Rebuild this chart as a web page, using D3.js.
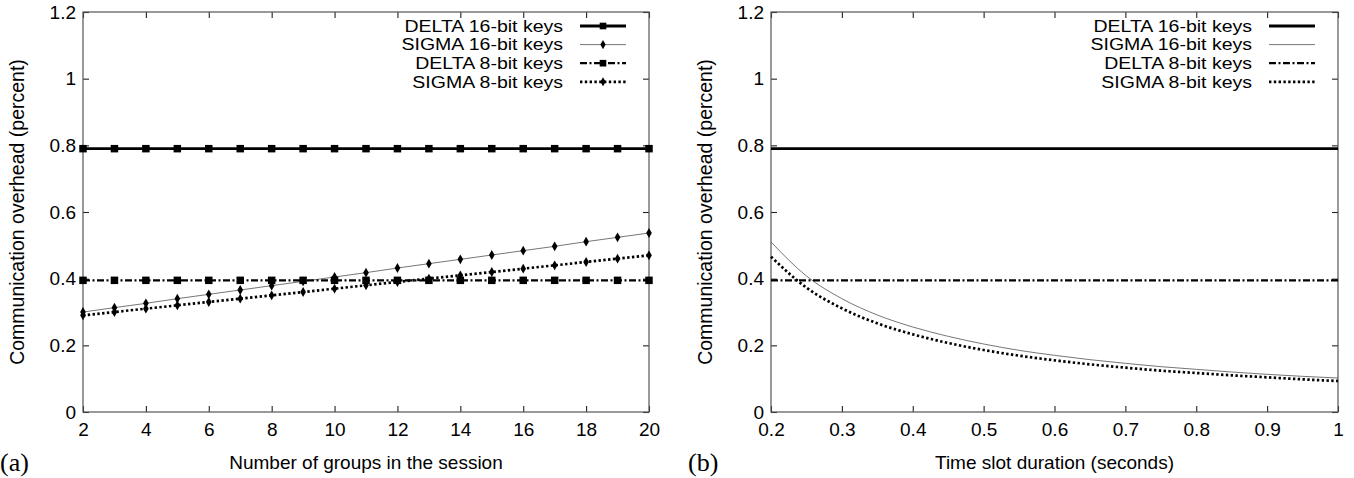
<!DOCTYPE html>
<html>
<head>
<meta charset="utf-8">
<script src="https://cdn.jsdelivr.net/npm/d3@7"></script>
<style>
  body { margin: 0; background: #fff; }
  text { font-family: "Liberation Sans", Arial, sans-serif; fill: #000; }
  .panel-tag { font-family: "Liberation Serif", "Times New Roman", serif; }
</style>
</head>
<body>
<div id="chart"></div>
<script>
// ---- data ----
const seriesNames = ["DELTA 16-bit keys", "SIGMA 16-bit keys", "DELTA 8-bit keys", "SIGMA 8-bit keys"];

// panel (a): overhead vs number of groups
const groupCounts = [2, 3, 4, 5, 6, 7, 8, 9, 10, 11, 12, 13, 14, 15, 16, 17, 18, 19, 20];
const deltaGroups16 = [0.79, 0.79, 0.79, 0.79, 0.79, 0.79, 0.79, 0.79, 0.79, 0.79, 0.79, 0.79, 0.79, 0.79, 0.79, 0.79, 0.79, 0.79, 0.79];
const sigmaGroups16 = [0.300, 0.313, 0.326, 0.340, 0.353, 0.366, 0.379, 0.392, 0.405, 0.418, 0.432, 0.445, 0.458, 0.471, 0.484, 0.497, 0.511, 0.524, 0.537];
const deltaGroups8 = [0.395, 0.395, 0.395, 0.395, 0.395, 0.395, 0.395, 0.395, 0.395, 0.395, 0.395, 0.395, 0.395, 0.395, 0.395, 0.395, 0.395, 0.395, 0.395];
const sigmaGroups8 = [0.290, 0.300, 0.310, 0.320, 0.330, 0.340, 0.350, 0.360, 0.370, 0.380, 0.390, 0.400, 0.410, 0.420, 0.430, 0.440, 0.450, 0.460, 0.470];

// panel (b): overhead vs time slot duration
const slotDurations = [0.20, 0.25, 0.30, 0.35, 0.40, 0.45, 0.50, 0.55, 0.60, 0.65, 0.70, 0.75, 0.80, 0.85, 0.90, 0.95, 1.00];
const deltaSlot16 = [0.79, 0.79, 0.79, 0.79, 0.79, 0.79, 0.79, 0.79, 0.79, 0.79, 0.79, 0.79, 0.79, 0.79, 0.79, 0.79, 0.79];
const sigmaSlot16 = [0.510, 0.408, 0.340, 0.291, 0.255, 0.227, 0.204, 0.185, 0.170, 0.157, 0.146, 0.136, 0.128, 0.120, 0.113, 0.107, 0.102];
const deltaSlot8 = [0.395, 0.395, 0.395, 0.395, 0.395, 0.395, 0.395, 0.395, 0.395, 0.395, 0.395, 0.395, 0.395, 0.395, 0.395, 0.395, 0.395];
const sigmaSlot8 = [0.466, 0.373, 0.311, 0.266, 0.233, 0.207, 0.186, 0.169, 0.155, 0.143, 0.133, 0.124, 0.117, 0.110, 0.104, 0.098, 0.093];

const yTicks = [0, 0.2, 0.4, 0.6, 0.8, 1, 1.2];
const groupTicks = [2, 4, 6, 8, 10, 12, 14, 16, 18, 20];
const slotTicks = [0.2, 0.3, 0.4, 0.5, 0.6, 0.7, 0.8, 0.9, 1];

// ---- layout ----
const width = 1354;
const height = 478;

const svg = d3.select("#chart")
    .append("svg")
    .attr("width", width)
    .attr("height", height);

// line styles per series (same order as seriesNames)
const styles = [
    { width: 2.8, color: "#000", dash: null, marker: "square" },
    { width: 0.9, color: "#666", dash: null, marker: "diamond" },
    { width: 2.3, color: "#000", dash: "7,2.5,2,2.5", marker: "square" },
    { width: 2.7, color: "#000", dash: "2.4,2.4", marker: "diamond" }
];

// legend rows sit tight, so use a smaller font stretched to the wider width
function legendWidth(name) {
    const t = svg.append("text").style("font-size", "19.5px").text(name);
    const w = t.node().getComputedTextLength();
    t.remove();
    return w;
}

function drawPanel(cfg) {
    const x = d3.scaleLinear().domain(cfg.xDomain).range([cfg.left, cfg.right]);
    const y = d3.scaleLinear().domain([0, 1.2]).range([cfg.bottom, cfg.top]);
    const g = svg.append("g");
    const tickLen = 6;

    // ticks on all four sides, pointing inward (gnuplot style)
    g.append("g")
        .attr("transform", `translate(0,${cfg.bottom})`)
        .call(d3.axisBottom(x).tickValues(cfg.xTicks).tickSize(-tickLen).tickPadding(11).tickFormat(d => String(+d.toFixed(1))))
        .call(a => a.select(".domain").remove());
    g.append("g")
        .attr("transform", `translate(0,${cfg.top})`)
        .call(d3.axisTop(x).tickValues(cfg.xTicks).tickSize(-tickLen).tickFormat(""))
        .call(a => a.select(".domain").remove());
    g.append("g")
        .attr("transform", `translate(${cfg.left},0)`)
        .call(d3.axisLeft(y).tickValues(yTicks).tickSize(-tickLen).tickPadding(7).tickFormat(d => String(+d.toFixed(1))))
        .call(a => a.select(".domain").remove());
    g.append("g")
        .attr("transform", `translate(${cfg.right},0)`)
        .call(d3.axisRight(y).tickValues(yTicks).tickSize(-tickLen).tickFormat(""))
        .call(a => a.select(".domain").remove());

    g.selectAll(".tick line").attr("stroke", "#222").attr("stroke-width", 1.1);
    g.selectAll(".tick text").style("font-size", "19px");

    // frame
    g.append("rect")
        .attr("x", cfg.left)
        .attr("y", cfg.top)
        .attr("width", cfg.right - cfg.left)
        .attr("height", cfg.bottom - cfg.top)
        .attr("fill", "none")
        .attr("stroke", "#555")
        .attr("stroke-width", 1.2);

    // series
    const line = d3.line()
        .x(d => x(d[0]))
        .y(d => y(d[1]))
        .curve(cfg.curve);

    cfg.series.forEach((vals, i) => {
        const s = styles[i];
        const pts = cfg.xs.map((xv, j) => [xv, vals[j]]);
        g.append("path")
            .datum(pts)
            .attr("d", line)
            .attr("fill", "none")
            .attr("stroke", s.color)
            .attr("stroke-width", s.width)
            .attr("stroke-dasharray", s.dash);
        if (cfg.markers) {
            const sym = d3.symbol()
                .type(s.marker === "square" ? d3.symbolSquare : d3.symbolDiamond)
                .size(s.marker === "square" ? 56 : 28);
            g.selectAll(null)
                .data(pts)
                .join("path")
                .attr("d", sym)
                .attr("transform", d => `translate(${x(d[0])},${y(d[1])})`)
                .attr("fill", "#000");
        }
    });

    // legend
    const legend = g.append("g");
    seriesNames.forEach((name, i) => {
        const s = styles[i];
        const ly = cfg.top + 14 + i * 18.6;
        legend.append("text")
            .attr("x", cfg.right - 86)
            .attr("y", ly)
            .attr("dy", "0.36em")
            .attr("text-anchor", "end")
            .attr("textLength", legendWidth(name))
            .attr("lengthAdjust", "spacingAndGlyphs")
            .style("font-size", "16px")
            .text(name);
        legend.append("line")
            .attr("x1", cfg.right - 69)
            .attr("x2", cfg.right - 23)
            .attr("y1", ly)
            .attr("y2", ly)
            .attr("stroke", s.color)
            .attr("stroke-width", s.width)
            .attr("stroke-dasharray", s.dash);
        if (cfg.markers) {
            legend.append("path")
                .attr("d", d3.symbol()
                    .type(s.marker === "square" ? d3.symbolSquare : d3.symbolDiamond)
                    .size(s.marker === "square" ? 44 : 24))
                .attr("transform", `translate(${cfg.right - 46},${ly})`)
                .attr("fill", "#000");
        }
    });

    // axis titles
    g.append("text")
        .attr("transform", `translate(${cfg.yLabelX},${(cfg.top + cfg.bottom) / 2}) rotate(-90)`)
        .attr("text-anchor", "middle")
        .attr("dy", "0.35em")
        .style("font-size", "19.5px")
        .text("Communication overhead (percent)");
    g.append("text")
        .attr("x", (cfg.left + cfg.right) / 2)
        .attr("y", 462)
        .attr("dy", "0.35em")
        .attr("text-anchor", "middle")
        .style("font-size", "19px")
        .text(cfg.xLabel);
    g.append("text")
        .attr("class", "panel-tag")
        .attr("x", cfg.tagX)
        .attr("y", 471)
        .style("font-size", "26px")
        .text(cfg.tag);
}

drawPanel({
    left: 83, right: 649, top: 12, bottom: 412,
    xDomain: [2, 20], xTicks: groupTicks, xs: groupCounts,
    series: [deltaGroups16, sigmaGroups16, deltaGroups8, sigmaGroups8],
    markers: true, curve: d3.curveLinear,
    xLabel: "Number of groups in the session",
    yLabelX: 17, tag: "(a)", tagX: 0
});

drawPanel({
    left: 771, right: 1338, top: 12, bottom: 412,
    xDomain: [0.2, 1], xTicks: slotTicks, xs: slotDurations,
    series: [deltaSlot16, sigmaSlot16, deltaSlot8, sigmaSlot8],
    markers: false, curve: d3.curveMonotoneX,
    xLabel: "Time slot duration (seconds)",
    yLabelX: 705, tag: "(b)", tagX: 688
});
</script>
</body>
</html>
